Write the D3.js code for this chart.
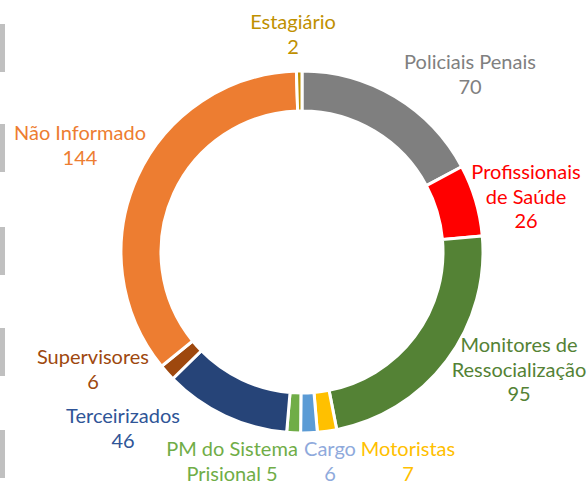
<!DOCTYPE html>
<html>
<head>
<meta charset="utf-8">
<script src="https://cdn.jsdelivr.net/npm/d3@7"></script>
<style>
  body { margin: 0; background: #fff; }
  text { font-family: "Lato", "Open Sans", sans-serif; font-size: 20px; }
</style>
</head>
<body>
<div id="chart"></div>
<script>
// data, clockwise from 12 o'clock
var categories = ["Policiais Penais", "Profissionais de Saúde", "Monitores de Ressocialização",
    "Motoristas", "Cargo", "PM do Sistema Prisional", "Terceirizados", "Supervisores",
    "Não Informado", "Estagiário"];
var values = [70, 26, 95, 7, 6, 5, 46, 6, 144, 2];
// label lines as they are wrapped in the picture
var labelLines = [
    ["Policiais Penais", "70"],
    ["Profissionais", "de Saúde", "26"],
    ["Monitores de", "Ressocialização", "95"],
    ["Motoristas", "7"],
    ["Cargo", "6"],
    ["PM do Sistema", "Prisional 5"],
    ["Terceirizados", "46"],
    ["Supervisores", "6"],
    ["Não Informado", "144"],
    ["Estagiário", "2"]
];

// styles
var sliceColors = ["#7f7f7f", "#ff0000", "#548235", "#ffc000", "#5b9bd5", "#70ad47",
    "#264478", "#9e480e", "#ed7d31", "#bf9000"];
var textColors = ["#808080", "#ff0000", "#548235", "#ffc000", "#8faadc", "#70ad47",
    "#2f5597", "#9e480e", "#ed7d31", "#bf9000"];
// label centre of first line (x, y)
var labelPos = [[470, 62], [526, 172], [519, 345], [408, 449], [330, 449], [232, 449],
    [123, 416], [93, 357], [80, 133], [293, 22]];

var width = 587, height = 486,
    cx = 302, cy = 252,
    outerR = 181, innerR = 141,
    lineH = 24.5;

var svg = d3.select("#chart").append("svg")
    .attr("width", width)
    .attr("height", height);

// grey tabs along the left edge
var tabs = [24, 124, 227, 328, 430];
svg.selectAll("rect.tab")
    .data(tabs)
    .enter().append("rect")
    .attr("class", "tab")
    .attr("x", 0)
    .attr("y", function(d) { return d; })
    .attr("width", 5)
    .attr("height", 48)
    .attr("fill", "#c0c0c0");

var pie = d3.pie().sort(null).value(function(d) { return d; });
var arc = d3.arc().innerRadius(innerR).outerRadius(outerR);

var g = svg.append("g")
    .attr("transform", "translate(" + cx + "," + cy + ")");

g.selectAll("path")
    .data(pie(values))
    .enter().append("path")
    .attr("d", arc)
    .attr("fill", function(d, i) { return sliceColors[i]; })
    .attr("stroke", "#fff")
    .attr("stroke-width", 3);

// data labels
var labels = svg.selectAll("text.lbl")
    .data(categories)
    .enter().append("text")
    .attr("class", "lbl")
    .attr("text-anchor", "middle")
    .attr("fill", function(d, i) { return textColors[i]; })
    .attr("x", function(d, i) { return labelPos[i][0]; })
    .attr("y", function(d, i) { return labelPos[i][1]; });

labels.each(function(d, i) {
    var t = d3.select(this);
    labelLines[i].forEach(function(line, j) {
        t.append("tspan")
            .attr("x", labelPos[i][0])
            .attr("y", labelPos[i][1] + j * lineH)
            .attr("dy", "0.35em")
            .text(line);
    });
});
</script>
</body>
</html>
